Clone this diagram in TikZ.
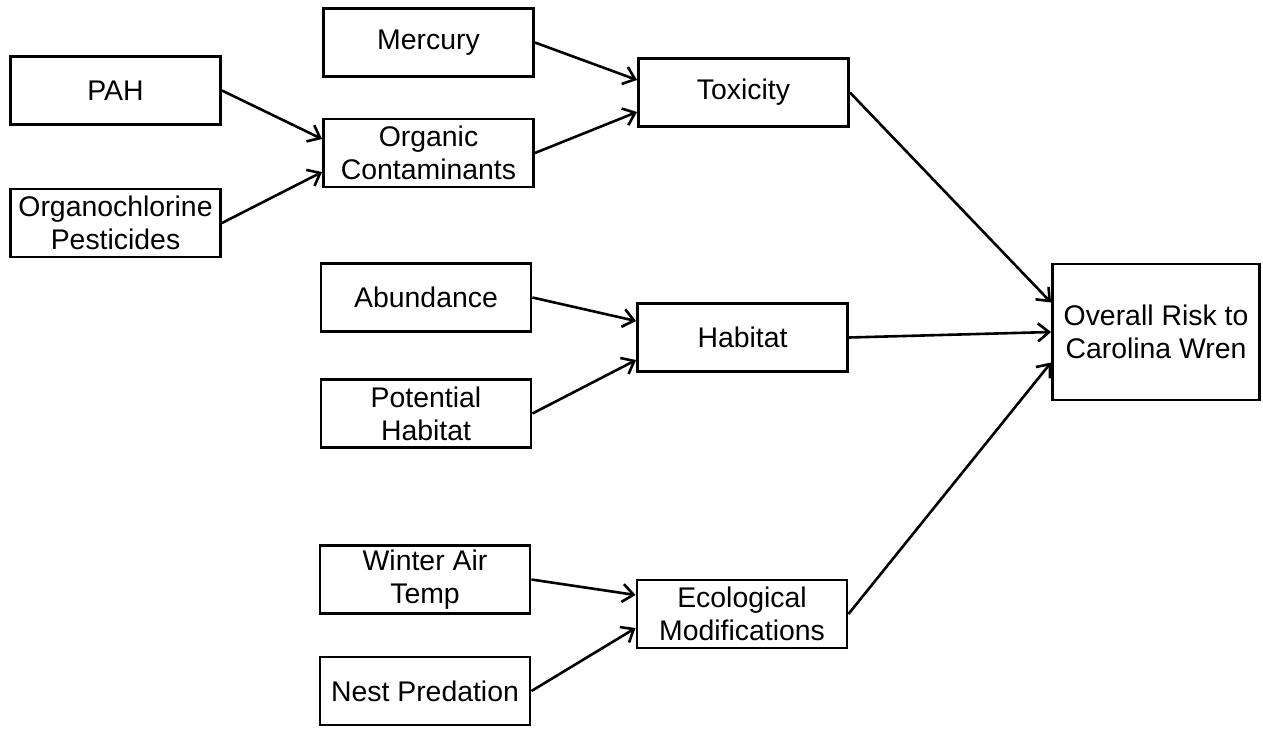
\documentclass[tikz,border=0pt]{standalone}
\usepackage{fontspec}
\setmainfont{Liberation Sans}
\usetikzlibrary{arrows.meta}
\begin{document}
\begin{tikzpicture}[x=0.5pt,y=-0.5pt,
  box/.style={draw, line width=1.45pt, minimum width=105pt, minimum height=34pt,
    align=center, inner sep=0pt, font=\fontsize{14.2}{16.4}\selectfont},
  link/.style={line width=1.3pt, -{Straight Barb[length=5.5pt,width=9pt]}}]
\useasboundingbox (0,0) rectangle (1263,729);

% inputs
\node[box] (pah)  at (115.5,90.5) {PAH};
\node[box] (ocp)  at (115.5,223)  {Organochlorine\\Pesticides};
\node[box] (hg)   at (428.5,42.5) {Mercury};
\node[box] (org)  at (428.5,153)  {Organic\\Contaminants};
\node[box] (abu)  at (426,297.5)  {Abundance};
\node[box] (pot)  at (426,413.5)  {Potential\\Habitat};
\node[box] (win)  at (425,579.5)  {Winter Air\\Temp};
\node[box] (nest) at (425,691)    {Nest Predation};

% intermediate factors
\node[box] (tox)  at (743.5,92.5) {Toxicity};
\node[box] (hab)  at (742.5,337.5) {Habitat};
\node[box] (eco)  at (742,614)    {Ecological\\Modifications};

% endpoint
\node[box, minimum width=103.5pt, minimum height=68pt] (risk) at (1156,332)
  {Overall Risk to\\Carolina Wren};

% connectors
\draw[link] (pah.east)  -- ([yshift=7pt]org.west);
\draw[link] (ocp.east)  -- ([yshift=-9.5pt]org.west);
\draw[link] (hg.east)   -- ([yshift=6.25pt]tox.west);
\draw[link] (org.east)  -- ([yshift=-9.75pt]tox.west);
\draw[link] (abu.east)  -- ([yshift=8.25pt]hab.west);
\draw[link] (pot.east)  -- ([yshift=-11.25pt]hab.west);
\draw[link] (win.east)  -- ([yshift=9.5pt]eco.west);
\draw[link] (nest.east) -- ([yshift=-7pt]eco.west);
\draw[link] (tox.east)  -- ([yshift=14.75pt]risk.west);
\draw[link] (hab.east)  -- ([yshift=0pt]risk.west);
\draw[link] (eco.east)  -- ([yshift=-15.25pt]risk.west);
\end{tikzpicture}
\end{document}
